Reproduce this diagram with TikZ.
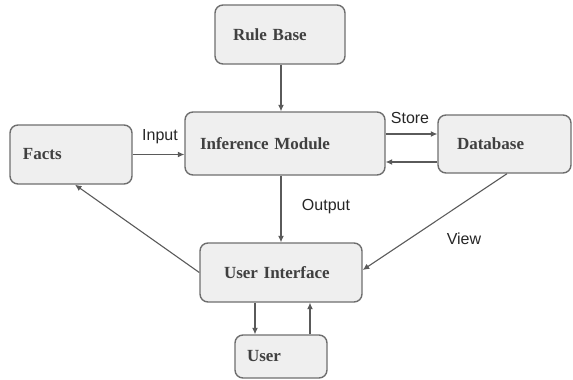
\documentclass[tikz,border=0pt]{standalone}
\usepackage{fontspec}
\setmainfont{Liberation Serif}
\newfontfamily\labelfont{Liberation Sans}
\usetikzlibrary{arrows.meta}
\definecolor{boxfill}{HTML}{EFEFEF}
\definecolor{boxline}{HTML}{6E6E6E}
\definecolor{wire}{HTML}{5A5A5A}
\tikzset{
  block/.style={draw=boxline, fill=boxfill, line width=1.4pt, rounded corners=8pt,
    font=\bfseries\fontsize{17}{19}\selectfont, text=black!75,
    align=left, inner ysep=0pt},
  flow/.style={draw=wire, line width=1.1pt, -{Latex[length=6.5pt,width=6pt]}},
  tag/.style={font=\labelfont\fontsize{16}{18}\selectfont, text=black!85, inner sep=0pt}
}
\begin{document}
\begin{tikzpicture}[x=1pt,y=-1pt]
  \useasboundingbox (0,0) rectangle (573,380);
  % boxes: centre, width = text width + 2 inner xsep
  \node[block, inner xsep=18pt, text width=94pt,  minimum height=59pt] (rb)   at (280,34.5)  {Rule Base};
  \node[block, inner xsep=15pt, text width=170pt, minimum height=63pt] (inf)  at (285,143.5) {Inference Module};
  \node[block, inner xsep=13pt, text width=96pt,  minimum height=59pt] (facts) at (71,154.5) {Facts};
  \node[block, inner xsep=19pt, text width=95pt,  minimum height=58pt] (db)   at (504.5,144) {Database};
  \node[block, inner xsep=24pt, text width=114pt, minimum height=59pt] (ui)   at (281,272.5) {User Interface};
  \node[block, inner xsep=12pt, text width=68pt,  minimum height=43pt] (user) at (281,356.5) {User};

  % connectors
  \draw[flow] ([xshift=-4pt]inf.north |- rb.south) -- ([xshift=-4pt]inf.north);
  \draw[flow] (facts.east) -- (facts.east -| inf.west);
  \draw[flow] ([yshift=9.5pt]inf.east) -- ([yshift=9.5pt]inf.east -| db.west);
  \draw[flow] ([yshift=-18pt]db.west) -- ([yshift=-18pt]db.west -| inf.east);
  \draw[flow] ([xshift=-4pt]inf.south) -- ([xshift=-4pt]inf.south |- ui.north);
  \draw[flow] (ui.west) -- ([xshift=4pt]facts.south);
  \draw[flow] ([xshift=2.5pt]db.south) -- ([yshift=2.5pt]ui.east);
  \draw[flow] ([xshift=-26pt]ui.south) -- ([xshift=-26pt]ui.south |- user.north);
  \draw[flow] ([xshift=29pt]user.north) -- ([xshift=29pt]user.north |- ui.south);

  % connector labels
  \node[tag] (lin)  at (160,137) {Input};
  \node[tag] (lst)  at (410,118) {Store};
  \node[tag] (lout) at (326,207) {Output};
  \node[tag] (lvw)  at (464,239) {View};
\end{tikzpicture}
\end{document}
